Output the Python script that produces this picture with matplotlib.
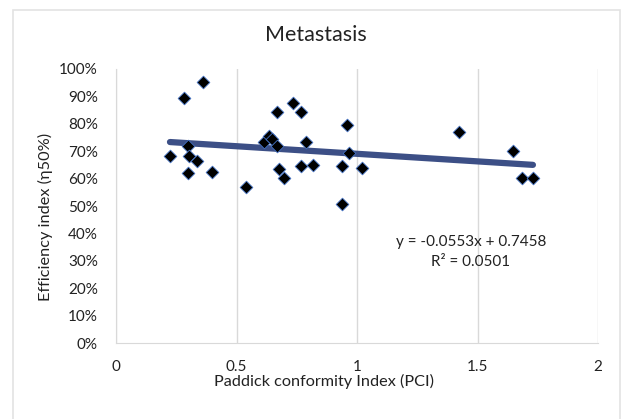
import matplotlib
matplotlib.use("Agg")
import matplotlib.pyplot as plt
from matplotlib.patches import Rectangle
import numpy as np

plt.rcParams['font.family'] = ['Lato', 'DejaVu Sans']

pci = [0.224, 0.282, 0.36, 0.299, 0.303, 0.336, 0.297, 0.40, 0.539, 0.614,
       0.636, 0.649, 0.667, 0.667, 0.734, 0.766, 0.787, 0.678, 0.696, 0.766,
       0.817, 0.938, 0.938, 0.957, 0.967, 1.022, 1.425, 1.649, 1.683, 1.730]
eff = [0.682, 0.894, 0.953, 0.719, 0.682, 0.664, 0.622, 0.624, 0.569, 0.735,
       0.755, 0.745, 0.719, 0.842, 0.875, 0.842, 0.735, 0.634, 0.602, 0.645,
       0.650, 0.645, 0.508, 0.794, 0.692, 0.638, 0.770, 0.700, 0.603, 0.603]
slope = -0.0553
intercept = 0.7458
r2 = 0.0501
title = "Metastasis"
xlabel = "Paddick conformity Index (PCI)"
ylabel = "Efficiency index (η50%)"

fig = plt.figure(figsize=(6.22, 4.19), dpi=100)
fig.patches.append(Rectangle((13/622, -0.01), (620-13)/622, 1 - 10/419 + 0.01,
                             transform=fig.transFigure, fill=False,
                             edgecolor='#e3e3e3', linewidth=1.2))
ax = fig.add_axes([116/622, 1-343/419, (598-116)/622, (343-69)/419])

xs = np.array([min(pci), max(pci)])
ax.plot(xs, slope*xs + intercept, color='#3C4F86', linewidth=4.5,
        solid_capstyle='round', zorder=2)
ax.scatter(pci, eff, marker='D', s=42, color='black', edgecolors='#4472C4',
           linewidths=0.6, zorder=3)

ax.set_xlim(0, 2)
ax.set_ylim(0, 1)
ax.set_xticks([0, 0.5, 1, 1.5, 2])
ax.set_xticklabels(['0', '0.5', '1', '1.5', '2'])
ax.set_yticks(np.arange(0, 1.01, 0.1))
ax.set_yticklabels([f"{int(round(v*100))}%" for v in np.arange(0, 1.01, 0.1)])
ax.tick_params(length=0, labelsize=11, colors='#222222')
ax.tick_params(axis='x', pad=12.5)
ax.tick_params(axis='y', pad=13)
ax.grid(axis='x', color='#d9d9d9', linewidth=1)
for s in ['top', 'right']:
    ax.spines[s].set_visible(False)
for s in ['left', 'bottom']:
    ax.spines[s].set_color('#d9d9d9')
ax.set_axisbelow(True)

fig.text(316/622, 1-35/419, title, ha='center', va='center',
         fontsize=15.5, color='#222222')
ax.set_xlabel(xlabel, fontsize=11.7, color='#222222')
ax.set_ylabel(ylabel, fontsize=11.7, color='#222222')
ax.xaxis.set_label_coords((324-116)/482, (343-374)/274)
ax.yaxis.set_label_coords((53-116)/482, (343-217)/274)

ax.text(1.473, 0.369, f"y = {slope}x + {intercept}", ha='center', va='center',
        fontsize=11, color='#222222')
ax.text(1.473, 0.296, f"R² = {r2}", ha='center', va='center',
        fontsize=11, color='#222222')

fig.savefig("out.png", dpi=100)
